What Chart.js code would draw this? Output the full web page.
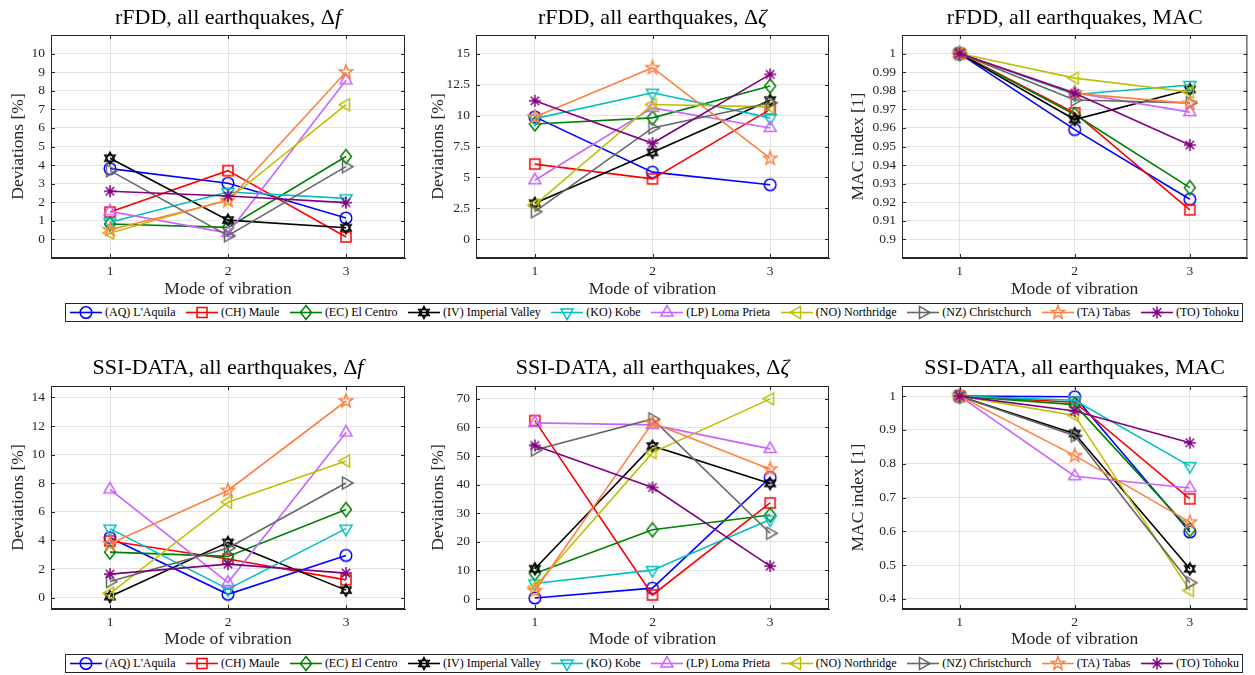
<!DOCTYPE html>
<html>
<head>
<meta charset="utf-8">
<script src="https://cdn.jsdelivr.net/npm/chart.js@4.4.1/dist/chart.umd.min.js"></script>
<style>
  body { margin: 0; background: #fff; width: 1255px; height: 675px; overflow: hidden; position: relative; }
  .panel { position: absolute; }
  .legend {
    position: absolute; left: 65px; width: 1178px; height: 19px;
    border: 1px solid #262626; box-sizing: border-box;
    display: flex; align-items: center; justify-content: space-between;
    padding: 0 3px; font-family: "Liberation Serif", serif; font-size: 12px; color: #000;
  }
  .legend span { display: flex; align-items: center; white-space: nowrap; }
  .legend canvas { margin-right: 2px; }
</style>
</head>
<body>
<canvas id="p1" class="panel"></canvas>
<canvas id="p2" class="panel"></canvas>
<canvas id="p3" class="panel"></canvas>
<canvas id="p4" class="panel"></canvas>
<canvas id="p5" class="panel"></canvas>
<canvas id="p6" class="panel"></canvas>
<div class="legend" id="leg1" style="top:303px"></div>
<div class="legend" id="leg2" style="top:654px"></div>
<script>
// modes on the x axis
const modes = [1, 2, 3];

const quakes = ["(AQ) L'Aquila", "(CH) Maule", "(EC) El Centro", "(IV) Imperial Valley", "(KO) Kobe",
  "(LP) Loma Prieta", "(NO) Northridge", "(NZ) Christchurch", "(TA) Tabas", "(TO) Tohoku"];
const colors = ["#0000ff", "#ff0000", "#008000", "#000000", "#00bfbf",
  "#c864ff", "#bfbf00", "#666666", "#ff8040", "#800080"];
const markers = ["o", "s", "d", "h", "v", "^", "<", ">", "p", "*"];

// values per earthquake, modes 1..3
const rfddDf = [[3.81, 3.02, 1.15], [1.47, 3.70, 0.13], [0.83, 0.65, 4.46], [4.37, 1.04, 0.63], [0.92, 2.55, 2.21],
  [1.51, 0.34, 8.56], [0.34, 2.14, 7.25], [3.70, 0.20, 3.92], [0.52, 2.09, 9.01], [2.59, 2.34, 1.98]];
const rfddDz = [[9.89, 5.43, 4.41], [6.08, 4.89, 10.5], [9.32, 9.81, 12.38], [2.92, 7.03, 11.24], [9.75, 11.84, 9.81],
  [4.78, 10.62, 9.0], [2.78, 10.89, 10.7], [2.24, 9.0, 11.03], [9.89, 13.86, 6.54], [11.19, 7.76, 13.32]];
const rfddMac = [[1, 0.9591, 0.9216], [1, 0.9681, 0.9159], [1, 0.9672, 0.9279], [1, 0.9645, 0.9807], [1, 0.978, 0.9831],
  [1, 0.9789, 0.9685], [1, 0.9868, 0.9793], [1, 0.975, 0.9735], [1, 0.9786, 0.9732], [1, 0.9786, 0.9508]];
const ssiDf = [[4.19, 0.23, 2.95], [3.96, 2.70, 1.24], [3.18, 2.88, 6.16], [0.07, 3.86, 0.52], [4.82, 0.59, 4.82],
  [7.56, 1.05, 11.55], [0.30, 6.67, 9.55], [1.12, 3.47, 8.01], [3.77, 7.49, 13.75], [1.64, 2.34, 1.71]];
const ssiDz = [[0.35, 3.8, 42.5], [62.4, 1.4, 33.6], [8.9, 24.2, 29.4], [10.6, 53.5, 40.4], [5.4, 10.1, 27.8],
  [61.6, 60.9, 52.5], [4.3, 51.2, 70.0], [52.1, 63.0, 23.0], [2.9, 61.6, 45.4], [53.7, 39.0, 11.5]];
const ssiMac = [[1, 0.998, 0.598], [1, 0.982, 0.696], [1, 0.975, 0.605], [1, 0.889, 0.489], [1, 0.988, 0.793],
  [1, 0.763, 0.728], [1, 0.943, 0.425], [1, 0.883, 0.448], [1, 0.824, 0.627], [1, 0.956, 0.862]];

// tick values
const ticksDf1 = [0, 1, 2, 3, 4, 5, 6, 7, 8, 9, 10];
const ticksDz1 = [0, 2.5, 5, 7.5, 10, 12.5, 15];
const ticksMac1 = [0.9, 0.91, 0.92, 0.93, 0.94, 0.95, 0.96, 0.97, 0.98, 0.99, 1];
const ticksDf2 = [0, 2, 4, 6, 8, 10, 12, 14];
const ticksDz2 = [0, 10, 20, 30, 40, 50, 60, 70];
const ticksMac2 = [0.4, 0.45, 0.5, 0.55, 0.6, 0.65, 0.7, 0.75, 0.8, 0.85, 0.9, 0.95, 1];

const SERIF = "'Liberation Serif', 'DejaVu Serif', serif";
const AXC = "#262626";

function drawMarker(ctx, m, cx, cy, color) {
  ctx.save();
  ctx.strokeStyle = color;
  ctx.lineWidth = 1.5;
  ctx.lineJoin = "miter";
  ctx.beginPath();
  if (m === "o") {
    ctx.arc(cx, cy, 5.8, 0, Math.PI * 2);
  } else if (m === "s") {
    ctx.rect(cx - 5, cy - 5, 10, 10);
  } else if (m === "d") {
    ctx.moveTo(cx, cy - 7); ctx.lineTo(cx + 5.5, cy); ctx.lineTo(cx, cy + 7); ctx.lineTo(cx - 5.5, cy); ctx.closePath();
  } else if (m === "h") {
    const r = 6;
    for (let k = 0; k < 2; k++) {
      const a0 = k === 0 ? -Math.PI / 2 : Math.PI / 2;
      for (let j = 0; j < 3; j++) {
        const a = a0 + j * 2 * Math.PI / 3;
        const px = cx + r * Math.cos(a), py = cy + r * Math.sin(a);
        if (j === 0) ctx.moveTo(px, py); else ctx.lineTo(px, py);
      }
      ctx.closePath();
    }
  } else if (m === "v" || m === "^" || m === "<" || m === ">") {
    const rot = { "^": -Math.PI / 2, "v": Math.PI / 2, "<": Math.PI, ">": 0 }[m];
    const r = 7;
    for (let j = 0; j < 3; j++) {
      const a = rot + j * 2 * Math.PI / 3;
      const px = cx + r * Math.cos(a), py = cy + r * Math.sin(a);
      if (j === 0) ctx.moveTo(px, py); else ctx.lineTo(px, py);
    }
    ctx.closePath();
  } else if (m === "p") {
    const ro = 7, ri = 2.9;
    for (let j = 0; j < 10; j++) {
      const a = -Math.PI / 2 + j * Math.PI / 5;
      const r = j % 2 === 0 ? ro : ri;
      const px = cx + r * Math.cos(a), py = cy + r * Math.sin(a);
      if (j === 0) ctx.moveTo(px, py); else ctx.lineTo(px, py);
    }
    ctx.closePath();
  } else if (m === "*") {
    const r = 6;
    for (let j = 0; j < 4; j++) {
      const a = j * Math.PI / 4;
      ctx.moveTo(cx - r * Math.cos(a), cy - r * Math.sin(a));
      ctx.lineTo(cx + r * Math.cos(a), cy + r * Math.sin(a));
    }
  }
  ctx.stroke();
  ctx.restore();
}

// marker images used as point styles
const markerImgs = markers.map(function (m, i) {
  const c = document.createElement("canvas");
  c.width = 20; c.height = 20;
  drawMarker(c.getContext("2d"), m, 10, 10, colors[i]);
  return c;
});

const framePlugin = {
  id: "frame",
  afterDraw(chart) {
    const ctx = chart.ctx;
    const a = chart.chartArea;
    ctx.save();
    ctx.strokeStyle = AXC;
    ctx.lineWidth = 1;
    ctx.strokeRect(a.left + 0.5, a.top + 0.5, a.right - a.left - 1, a.bottom - a.top - 1);
    // inward ticks
    ctx.beginPath();
    chart.scales.y.ticks.forEach(function (t) {
      const py = Math.round(chart.scales.y.getPixelForValue(t.value)) + 0.5;
      ctx.moveTo(a.left, py); ctx.lineTo(a.left + 4, py);
      ctx.moveTo(a.right, py); ctx.lineTo(a.right - 4, py);
    });
    chart.scales.x.ticks.forEach(function (t) {
      const px = Math.round(chart.scales.x.getPixelForValue(t.value)) + 0.5;
      ctx.moveTo(px, a.bottom); ctx.lineTo(px, a.bottom - 4);
      ctx.moveTo(px, a.top); ctx.lineTo(px, a.top + 4);
    });
    ctx.stroke();
    // title with italic parts
    const parts = chart.options.plugins.frame.title;
    const size = 22;
    let total = 0;
    parts.forEach(function (p) {
      ctx.font = (p[1] ? "italic " : "") + size + "px " + SERIF;
      total += ctx.measureText(p[0]).width;
    });
    let x = (a.left + a.right) / 2 - total / 2;
    ctx.fillStyle = "#000";
    ctx.textBaseline = "middle";
    ctx.textAlign = "left";
    parts.forEach(function (p) {
      ctx.font = (p[1] ? "italic " : "") + size + "px " + SERIF;
      ctx.fillText(p[0], x, a.top - chart.options.plugins.frame.gap);
      x += ctx.measureText(p[0]).width;
    });
    ctx.restore();
  }
};

function makePanel(id, left, top, width, height, yAxisW, padTop, padRight, xAxisH, yTicks, yMin, yMax, yLabel, title, gap, values) {
  const canvas = document.getElementById(id);
  canvas.width = width; canvas.height = height;
  canvas.style.left = left + "px"; canvas.style.top = top + "px";
  canvas.style.width = width + "px"; canvas.style.height = height + "px";

  const datasets = values.map(function (vals, i) {
    return {
      label: quakes[i],
      data: vals.map(function (v, k) { return { x: modes[k], y: v }; }),
      borderColor: colors[i],
      backgroundColor: "transparent",
      borderWidth: 1.6,
      pointStyle: markerImgs[i],
      pointRadius: 6,
      tension: 0,
      order: 10 - i
    };
  });

  new Chart(canvas, {
    type: "line",
    data: { datasets: datasets },
    options: {
      responsive: false,
      animation: false,
      devicePixelRatio: 1,
      layout: { padding: { top: padTop, right: padRight, left: 0, bottom: 0 } },
      plugins: {
        legend: { display: false },
        tooltip: { enabled: false },
        frame: { title: title, gap: gap }
      },
      scales: {
        x: {
          type: "linear", min: 0.5, max: 3.5,
          afterBuildTicks: function (s) { s.ticks = modes.map(function (v) { return { value: v }; }); },
          afterFit: function (s) { s.height = xAxisH; },
          grid: { color: "#e3e3e3", drawTicks: false },
          border: { color: AXC },
          ticks: { padding: 5, color: AXC, font: { family: SERIF, size: 13.5 }, maxRotation: 0 },
          title: { display: true, text: "Mode of vibration", color: AXC, font: { family: SERIF, size: 17.5 }, padding: 0 }
        },
        y: {
          min: yMin, max: yMax,
          afterBuildTicks: function (s) { s.ticks = yTicks.map(function (v) { return { value: v }; }); },
          afterFit: function (s) { s.width = yAxisW; },
          grid: { color: "#e3e3e3", drawTicks: false },
          border: { color: AXC },
          ticks: {
            padding: 6, color: AXC, font: { family: SERIF, size: 13.5 },
            callback: function (v) { return String(+Number(v).toFixed(3)); }
          },
          title: { display: true, text: yLabel, color: AXC, font: { family: SERIF, size: 17.5 }, padding: { top: 8, bottom: 0 } }
        }
      }
    },
    plugins: [framePlugin]
  });
}

makePanel("p1", 0, 0, 420, 300, 51, 35, 15, 42, ticksDf1, -1, 11, "Deviations [%]",
  [["rFDD, all earthquakes, \u0394", false], ["f", true]], 17, rfddDf);
makePanel("p2", 420, 0, 420, 300, 56, 35, 11, 42, ticksDz1, -1.5, 16.5, "Deviations [%]",
  [["rFDD, all earthquakes, \u0394", false], ["\u03b6", true]], 17, rfddDz);
makePanel("p3", 840, 0, 415, 300, 62, 35, 1, 42, ticksMac1, 0.89, 1.01, "MAC index [1]",
  [["rFDD, all earthquakes, MAC", false]], 17, rfddMac);
makePanel("p4", 0, 350, 420, 300, 51, 36, 15, 41, ticksDf2, -0.8, 14.8, "Deviations [%]",
  [["SSI-DATA, all earthquakes, \u0394", false], ["f", true]], 18, ssiDf);
makePanel("p5", 420, 350, 420, 300, 56, 36, 11, 41, ticksDz2, -3.5, 74.5, "Deviations [%]",
  [["SSI-DATA, all earthquakes, \u0394", false], ["\u03b6", true]], 18, ssiDz);
makePanel("p6", 840, 350, 415, 300, 62, 36, 1, 41, ticksMac2, 0.37, 1.03, "MAC index [1]",
  [["SSI-DATA, all earthquakes, MAC", false]], 18, ssiMac);

// legends
["leg1", "leg2"].forEach(function (lid) {
  const box = document.getElementById(lid);
  quakes.forEach(function (q, i) {
    const item = document.createElement("span");
    const c = document.createElement("canvas");
    c.width = 34; c.height = 17;
    const ctx = c.getContext("2d");
    ctx.strokeStyle = colors[i];
    ctx.lineWidth = 1.6;
    ctx.beginPath(); ctx.moveTo(1, 8.5); ctx.lineTo(33, 8.5); ctx.stroke();
    drawMarker(ctx, markers[i], 17, 8.5, colors[i]);
    item.appendChild(c);
    item.appendChild(document.createTextNode(q));
    box.appendChild(item);
  });
});
</script>
</body>
</html>
